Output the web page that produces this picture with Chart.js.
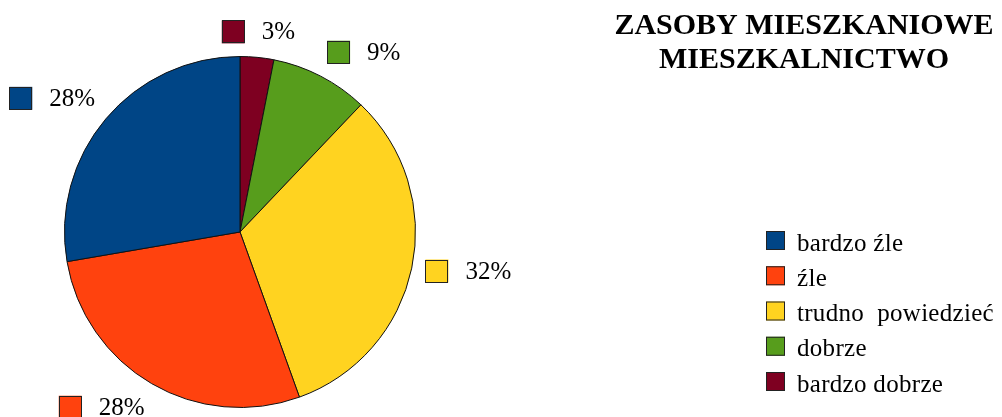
<!DOCTYPE html>
<html>
<head>
<meta charset="utf-8">
<script src="https://cdn.jsdelivr.net/npm/chart.js@4.4.1/dist/chart.umd.min.js"></script>
<style>
html,body{margin:0;padding:0;background:#fff;}
canvas{display:block;}
</style>
</head>
<body>
<canvas id="c" width="1002" height="417"></canvas>
<script>
// ---- data (legend order) ----
const titleLines = ['ZASOBY MIESZKANIOWE', 'MIESZKALNICTWO'];
const categories = ['bardzo źle', 'źle', 'trudno  powiedzieć', 'dobrze', 'bardzo dobrze'];
const values = [27.7, 27.8, 32.4, 9.0, 3.1];
const colors = ['#004586', '#ff420e', '#ffd320', '#579d1c', '#7e0021'];

// pie is drawn clockwise from the top starting with the last category
const drawLabels = categories.slice().reverse();
const drawValues = values.slice().reverse();
const drawColors = colors.slice().reverse();

const SERIF = '"Liberation Serif", "Times New Roman", serif';

const decorPlugin = {
  id: 'decor',
  afterDraw(chart) {
    const ctx = chart.ctx;
    ctx.save();
    // title
    ctx.fillStyle = '#000';
    ctx.font = 'bold 30px ' + SERIF;
    ctx.textAlign = 'center';
    ctx.textBaseline = 'alphabetic';
    ctx.fillText(titleLines[0], 804, 34);
    ctx.fillText(titleLines[1], 804, 68);

    // legend
    const boxTop0 = 231, step = 35.25, box = 19;
    ctx.font = '25px ' + SERIF;
    ctx.textAlign = 'left';
    try { ctx.letterSpacing = '0.3px'; } catch (e) {}
    categories.forEach((name, i) => {
      const top = boxTop0 + i * step;
      ctx.fillStyle = colors[i];
      ctx.fillRect(766, top, box, box);
      ctx.strokeStyle = '#222';
      ctx.lineWidth = 1;
      ctx.strokeRect(766.5, top + 0.5, box - 1, box - 1);
      ctx.fillStyle = '#000';
      ctx.fillText(name, 797, top + 19.5);
    });
    try { ctx.letterSpacing = '0px'; } catch (e) {}

    // percentage labels outside the slices
    const meta = chart.getDatasetMeta(0);
    const data = chart.data.datasets[0].data;
    const total = data.reduce((a, b) => a + b, 0);
    ctx.font = '25px ' + SERIF;
    const lb = 23, gap = 17, th = 0.383;
    meta.data.forEach((arc, i) => {
      const p = arc.getProps(['x', 'y', 'startAngle', 'endAngle', 'outerRadius'], true);
      const mid = (p.startAngle + p.endAngle) / 2;
      const r = p.outerRadius + 14;
      const dx = Math.cos(mid), dy = Math.sin(mid);
      const px = p.x + dx * r, py = p.y + dy * r;
      const txt = Math.round(data[i] / total * 100) + '%';
      const tw = ctx.measureText(txt).width;
      const W = lb + gap + tw, H = lb;
      let left, top;
      if (dx > th) left = px; else if (dx < -th) left = px - W; else left = px - W / 2;
      if (dy < -th) top = py - H; else if (dy > th) top = py; else top = py - H / 2;
      ctx.fillStyle = drawColors[i];
      ctx.fillRect(left, top, lb, lb);
      ctx.strokeStyle = '#222';
      ctx.lineWidth = 1;
      ctx.strokeRect(Math.round(left) + 0.5, Math.round(top) + 0.5, lb - 1, lb - 1);
      ctx.fillStyle = '#000';
      ctx.textAlign = 'left';
      ctx.textBaseline = 'middle';
      ctx.fillText(txt, left + lb + gap, top + H / 2 + 1);
    });
    ctx.restore();
  }
};

new Chart(document.getElementById('c'), {
  type: 'pie',
  data: {
    labels: drawLabels,
    datasets: [{
      data: drawValues,
      backgroundColor: drawColors,
      borderColor: '#111',
      borderWidth: 1
    }]
  },
  options: {
    responsive: false,
    animation: false,
    events: [],
    layout: { padding: { left: 0, right: 522, top: 56, bottom: 9 } },
    plugins: {
      legend: { display: false },
      title: { display: false },
      tooltip: { enabled: false }
    }
  },
  plugins: [decorPlugin]
});
</script>
</body>
</html>
